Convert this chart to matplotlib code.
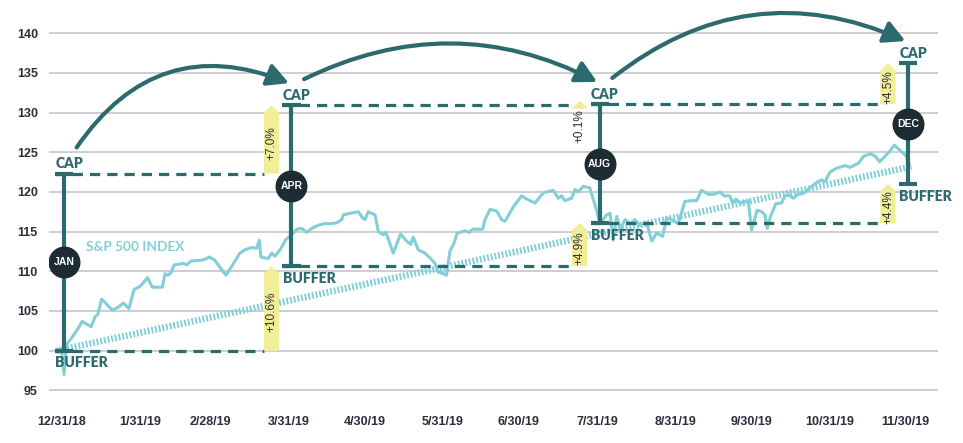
import numpy as np
import matplotlib
matplotlib.use("Agg")
import matplotlib.pyplot as plt
from matplotlib.patches import FancyArrowPatch, Polygon
from matplotlib import font_manager

# S&P 500 index rebased to 100 (x = days after 12/31/18)
spx_day = [-2, 0, 1, 2, 4, 6.6, 8.2, 11.7, 13.3, 14.3,
           15.9, 20.1, 22.5, 24.5, 26.7, 28.7, 31.1, 34.1, 35.9, 39.9,
           41.0, 42.0, 43.3, 44.6, 48.2, 49.5, 51.2, 55.5, 57.5, 58.4,
           60.7, 62.7, 65.1, 68.7, 70.6, 72.6, 75.3, 77.2, 78.3, 78.9,
           81.8, 83.2, 84.5, 86.5, 88.8, 91.1, 93.1, 95.1, 97.0, 99.0,
           101.6, 103.9, 106.3, 108.9, 110.9, 111.5, 114.2, 117.5, 119.2, 120.1,
           121.4, 124.1, 125.4, 127.3, 128.4, 131.3, 134.2, 136.3, 138.2, 139.2,
           141.2, 143.8, 146.1, 147.8, 149.1, 151.1, 152.4, 153.7, 155.3, 156.6,
           159.7, 161.4, 162.7, 166.7, 167.6, 169.6, 172.2, 174.2, 175.5, 178.8,
           182.1, 184.7, 187.4, 190.7, 194.6, 196.6, 197.9, 199.2, 201.9, 203.2,
           204.5, 206.5, 209.1, 211.1, 212.4, 213.1, 215.7, 217.1, 218.4, 219.7,
           221.3, 223.0, 225.2, 226.9, 228.9, 231.6, 233.6, 235.5, 237.9, 239.5,
           241.5, 244.1, 246.7, 249.4, 251.4, 253.3, 256.0, 258.2, 260.6, 262.2,
           264.5, 265.6, 266.9, 268.5, 271.8, 273.1, 275.3, 277.1, 278.4, 279.3,
           280.6, 282.7, 285.0, 286.3, 288.0, 289.6, 291.6, 293.5, 296.2, 298.9,
           300.8, 302.2, 304.2, 306.8, 310.1, 312.1, 315.4, 317.5, 320.1, 322.1,
           323.8, 326.0, 328.0, 329.6, 332.0, 334.4, 334.9]
spx_val = [100.1, 100.2, 97.0, 100.8, 101.6, 102.8, 103.7, 103.0, 104.3, 104.5,
           106.5, 105.1, 105.5, 106.0, 105.3, 107.7, 108.1, 109.2, 108.0, 108.0,
           109.7, 109.5, 109.8, 110.8, 111.0, 110.8, 111.3, 111.4, 111.6, 111.8,
           111.4, 110.5, 109.5, 111.3, 112.3, 112.7, 113.0, 112.9, 113.9, 111.8,
           111.6, 112.3, 111.9, 112.7, 114.0, 114.6, 115.3, 115.4, 114.9, 115.4,
           115.8, 116.0, 116.0, 116.1, 116.5, 117.1, 117.3, 117.5, 116.7, 116.5,
           117.5, 117.1, 115.0, 114.6, 114.9, 112.3, 114.7, 113.9, 113.4, 114.3,
           112.7, 112.3, 111.6, 111.0, 109.9, 109.7, 109.5, 112.5, 113.5, 114.8,
           115.1, 114.9, 115.3, 115.3, 116.5, 117.8, 117.6, 116.5, 116.3, 118.1,
           119.5, 119.0, 118.6, 119.9, 120.2, 119.2, 119.5, 118.9, 119.2, 120.3,
           120.0, 120.7, 120.5, 118.4, 116.9, 116.0, 117.1, 117.3, 113.9, 116.9,
           115.4, 116.5, 116.0, 116.5, 115.8, 116.1, 113.8, 114.8, 114.4, 116.7,
           116.5, 116.0, 118.8, 118.9, 118.9, 120.2, 119.7, 119.7, 120.0, 119.5,
           119.5, 118.6, 119.1, 118.6, 118.9, 115.2, 117.7, 117.5, 117.1, 115.4,
           116.9, 118.5, 118.6, 119.5, 119.6, 119.2, 119.7, 119.8, 120.5, 121.2,
           121.5, 121.3, 122.5, 123.0, 123.3, 123.1, 123.6, 124.5, 124.8, 124.5,
           123.8, 124.5, 125.2, 125.9, 125.2, 124.5, 123.8]

# straight hatched reference line
ref_day = [-2, 336.4]
ref_val = [100.0, 123.2]

month_ticks = [0, 31, 59, 90, 120, 151, 181, 212, 243, 273, 304, 334]
month_labels = ["12/31/18", "1/31/19", "2/28/19", "3/31/19", "4/30/19", "5/31/19",
                "6/30/19", "7/31/19", "8/31/19", "9/30/19", "10/31/19", "11/30/19"]

# outcome periods
period_names = ["JAN", "APR", "AUG", "DEC"]
period_day = [1, 91, 213, 335]
cap_level = [122.3, 130.9, 131.05, 136.2]
buffer_level = [100.0, 110.65, 116.05, 121.0]
cap_change = ["+7.0%", "+0.1%", "+4.5%"]
buffer_change = ["+10.6%", "+4.9%", "+4.4%"]
arc_bend = [0.4, 0.25, 0.3]

TEAL = "#2c6a6d"
NAVY = "#1d2c33"
CYAN = "#82cfd7"
YELLOW = "#f2ee98"
GRID = "#c3c6ca"
TXT = "#2b2e3b"

# narrow bold face if there is one, otherwise Liberation Sans (Arial metrics)
NARROW, tick_size, note_size = "Liberation Sans", 9, 8.5
try:
    fp = font_manager.FontProperties(family="Liberation Sans Narrow", weight="bold")
    path = font_manager.findfont(fp, fallback_to_default=False)
    if "Narrow" in path and "Bold" in path:
        NARROW, tick_size, note_size = "Liberation Sans Narrow", 10, 9.5
except Exception:
    pass
names = {f.name for f in font_manager.fontManager.ttflist}
GEO = "Lato" if "Lato" in names else "DejaVu Sans"

fig = plt.figure(figsize=(9.63, 4.43), dpi=100)
ax = fig.add_axes([49 / 963, 38 / 443, 889 / 963, 405 / 443])
ax.set_xlim(-4.95, 346.9)
ax.set_ylim(93.16, 144.17)

ax.set_yticks(range(95, 141, 5))
ax.grid(axis="y", color=GRID, lw=1.2)
ax.set_axisbelow(True)
for s in ax.spines.values():
    s.set_visible(False)
ax.set_xticks(month_ticks, month_labels)
ax.tick_params(length=0)
ax.tick_params(axis="y", pad=8)
ax.tick_params(axis="x", pad=8)
for lab in ax.get_xticklabels() + ax.get_yticklabels():
    lab.set_fontfamily(NARROW)
    lab.set_fontweight("bold")
    lab.set_fontsize(tick_size)
    lab.set_color(TXT)

# index line and hatched straight line
ax.plot(ref_day, ref_val, color=CYAN, lw=4.8, dashes=(0.28, 0.28), zorder=2)
ax.plot(spx_day, spx_val, color=CYAN, lw=2.2, solid_joinstyle="round", zorder=3)
ax.text(9.5, 113.0, "S&P 500 INDEX", color=CYAN, fontfamily=GEO, fontweight="bold",
        fontsize=9.8, va="center", ha="left", zorder=4)

tick_half = 3.6   # half width of the end caps (days)
n = len(period_day)

for i in range(n):
    d, cap, buf = period_day[i], cap_level[i], buffer_level[i]
    # dashed carry-over lines to next period
    if i < n - 1:
        right = period_day[i + 1] - 10.9
        for lvl in (cap, buf):
            ax.plot([d - tick_half, right], [lvl, lvl], color=TEAL, lw=2.3,
                    dashes=(3.2, 2.2), zorder=4)
    # range bar
    ax.plot([d, d], [buf, cap], color=TEAL, lw=3, zorder=5, solid_capstyle="butt")
    for lvl in (cap, buf):
        ax.plot([d - tick_half, d + tick_half], [lvl, lvl], color=TEAL, lw=3, zorder=5,
                solid_capstyle="butt")
    mid = (cap + buf) / 2
    ax.plot(d, mid, "o", ms=22, color=NAVY, mec=NAVY, zorder=6)
    ax.text(d, mid, period_names[i], color="white", fontweight="bold", fontfamily=NARROW,
            fontsize=7.5, ha="center", va="center", zorder=7)
    ax.annotate("CAP", (d - 3.4, cap), xytext=(0, 4), textcoords="offset points",
                color=TEAL, fontfamily=GEO, fontweight="heavy", fontsize=10,
                ha="left", va="baseline", zorder=7)
    ax.annotate("BUFFER", (d - 3.4, buf), xytext=(0, -4), textcoords="offset points",
                color=TEAL, fontfamily=GEO, fontweight="heavy", fontsize=10,
                ha="left", va="top", zorder=7)

# yellow change arrows
head = 0.9
for i in range(n - 1):
    xc = period_day[i + 1] - 7.9
    xl, xr = xc - 3.0, xc + 3.0
    for lo, hi, txt in ((cap_level[i], cap_level[i + 1], cap_change[i]),
                        (buffer_level[i], buffer_level[i + 1], buffer_change[i])):
        small = hi - lo < 1.2
        if small:
            m = (lo + hi) / 2
            lo, hi = m - 0.5, m + 0.5
        poly = Polygon([(xl, lo), (xr, lo), (xr, hi - head), (xc, hi), (xl, hi - head)],
                       closed=True, fc=YELLOW, ec="none", zorder=6)
        ax.add_patch(poly)
        if small:
            ax.text(xc, lo - 0.1, txt, rotation=90, ha="center", va="top", color=TXT,
                    fontfamily=NARROW, fontsize=note_size, zorder=7)
        else:
            ax.text(xc, (lo + hi - head) / 2, txt, rotation=90, ha="center", va="center",
                    color=TXT, fontfamily=NARROW, fontsize=note_size, zorder=7)

# curved arrows between caps
for i in range(n - 1):
    start = (period_day[i] + 5, cap_level[i] + 3.3)
    end = (period_day[i + 1] - 1, cap_level[i + 1] + 2.8)
    arr = FancyArrowPatch(start, end, connectionstyle=f"arc3,rad={-arc_bend[i]}",
                          arrowstyle="-|>,head_length=0.85,head_width=0.45",
                          mutation_scale=15, lw=3, color=TEAL, shrinkA=0, shrinkB=0,
                          zorder=6)
    ax.add_patch(arr)

fig.savefig("out.png", dpi=100)
